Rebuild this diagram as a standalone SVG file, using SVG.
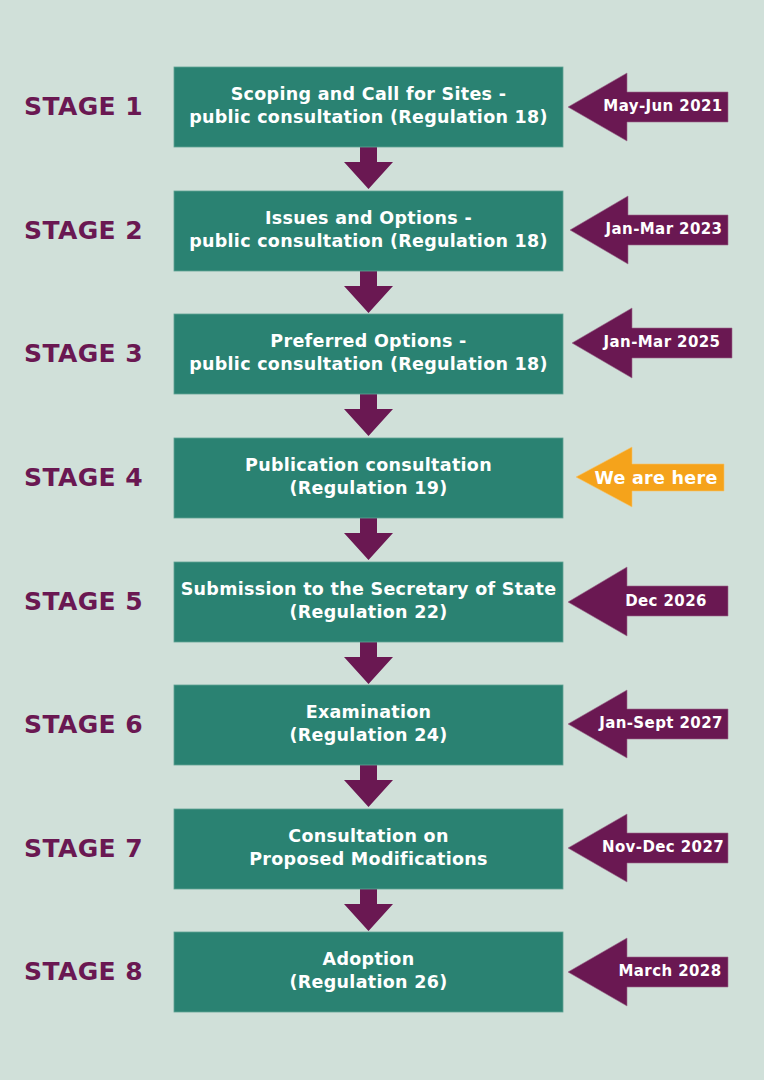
<svg xmlns="http://www.w3.org/2000/svg" width="764" height="1080" viewBox="0 0 764 1080">
<defs>
<style>
.bg{fill:#D0E0D9}
.box{fill:#2A8272;stroke:#5FA394;stroke-width:0.8}
.bt{font-family:"DejaVu Sans",Verdana,sans-serif;font-weight:bold;font-size:17.5px;letter-spacing:0.3px;fill:#FFFFFF;text-anchor:middle}
.st{font-family:"DejaVu Sans",Verdana,sans-serif;font-weight:bold;font-size:25px;letter-spacing:0.4px;fill:#6A1852}
.da{fill:#6A1852}
.la{fill:#6A1852;stroke:#9A6A8A;stroke-width:0.6}
.here{fill:#F5A31B;stroke:#F7C46A;stroke-width:0.6}
.at{font-family:"DejaVu Sans",Verdana,sans-serif;font-weight:bold;font-size:15px;letter-spacing:0.4px;fill:#FFFFFF;text-anchor:middle}
.ht{font-family:"DejaVu Sans",Verdana,sans-serif;font-weight:bold;font-size:17.5px;letter-spacing:0.3px;fill:#FFFFFF;text-anchor:middle}
</style>
</defs>
<rect class="bg" x="0" y="0" width="764" height="1080"/>

<g id="connectors">
<path class="da" d="M360,147 H377 V162 H393 L368.5,189 L344,162 H360 Z"/>
<path class="da" d="M360,271 H377 V286 H393 L368.5,313 L344,286 H360 Z"/>
<path class="da" d="M360,394 H377 V409 H393 L368.5,436 L344,409 H360 Z"/>
<path class="da" d="M360,518 H377 V533 H393 L368.5,560 L344,533 H360 Z"/>
<path class="da" d="M360,642 H377 V657 H393 L368.5,684 L344,657 H360 Z"/>
<path class="da" d="M360,765 H377 V780 H393 L368.5,807 L344,780 H360 Z"/>
<path class="da" d="M360,889 H377 V904 H393 L368.5,931 L344,904 H360 Z"/>
</g>

<g id="stage1">
<text class="st" x="24" y="115">STAGE 1</text>
<rect class="box" x="174" y="67" width="389" height="80"/>
<text class="bt" x="368.5" y="100">Scoping and Call for Sites -</text>
<text class="bt" x="368.5" y="123">public consultation (Regulation 18)</text>
<path class="la" d="M568,107 L627,73 V92 H728 V122 H627 V141 Z"/>
<text class="at" x="663" y="111">May-Jun 2021</text>
</g>

<g id="stage2">
<text class="st" x="24" y="239">STAGE 2</text>
<rect class="box" x="174" y="191" width="389" height="80"/>
<text class="bt" x="368.5" y="224">Issues and Options -</text>
<text class="bt" x="368.5" y="247">public consultation (Regulation 18)</text>
<path class="la" d="M570,230 L628,196 V215 H728 V245 H628 V264 Z"/>
<text class="at" x="664" y="234">Jan-Mar 2023</text>
</g>

<g id="stage3">
<text class="st" x="24" y="362">STAGE 3</text>
<rect class="box" x="174" y="314" width="389" height="80"/>
<text class="bt" x="368.5" y="347">Preferred Options -</text>
<text class="bt" x="368.5" y="370">public consultation (Regulation 18)</text>
<path class="la" d="M572,343 L632,308 V328 H732 V358 H632 V378 Z"/>
<text class="at" x="662" y="347">Jan-Mar 2025</text>
</g>

<g id="stage4">
<text class="st" x="24" y="486">STAGE 4</text>
<rect class="box" x="174" y="438" width="389" height="80"/>
<text class="bt" x="368.5" y="471">Publication consultation</text>
<text class="bt" x="368.5" y="494">(Regulation 19)</text>
<path class="here" d="M576,477 L632,447 V464 H724 V491 H632 V507 Z"/>
<text class="ht" x="656" y="484">We are here</text>
</g>

<g id="stage5">
<text class="st" x="24" y="610">STAGE 5</text>
<rect class="box" x="174" y="562" width="389" height="80"/>
<text class="bt" x="368.5" y="595">Submission to the Secretary of State</text>
<text class="bt" x="368.5" y="618">(Regulation 22)</text>
<path class="la" d="M568,602 L627,567 V586 H728 V616 H627 V636 Z"/>
<text class="at" x="666" y="606">Dec 2026</text>
</g>

<g id="stage6">
<text class="st" x="24" y="733">STAGE 6</text>
<rect class="box" x="174" y="685" width="389" height="80"/>
<text class="bt" x="368.5" y="718">Examination</text>
<text class="bt" x="368.5" y="741">(Regulation 24)</text>
<path class="la" d="M568,724 L627,690 V709 H728 V739 H627 V758 Z"/>
<text class="at" x="661" y="728">Jan-Sept 2027</text>
</g>

<g id="stage7">
<text class="st" x="24" y="857">STAGE 7</text>
<rect class="box" x="174" y="809" width="389" height="80"/>
<text class="bt" x="368.5" y="842">Consultation on</text>
<text class="bt" x="368.5" y="865">Proposed Modifications</text>
<path class="la" d="M568,848 L627,814 V833 H728 V863 H627 V882 Z"/>
<text class="at" x="663" y="852">Nov-Dec 2027</text>
</g>

<g id="stage8">
<text class="st" x="24" y="980">STAGE 8</text>
<rect class="box" x="174" y="932" width="389" height="80"/>
<text class="bt" x="368.5" y="965">Adoption</text>
<text class="bt" x="368.5" y="988">(Regulation 26)</text>
<path class="la" d="M568,972 L627,938 V957 H728 V987 H627 V1006 Z"/>
<text class="at" x="670" y="976">March 2028</text>
</g>
</svg>
